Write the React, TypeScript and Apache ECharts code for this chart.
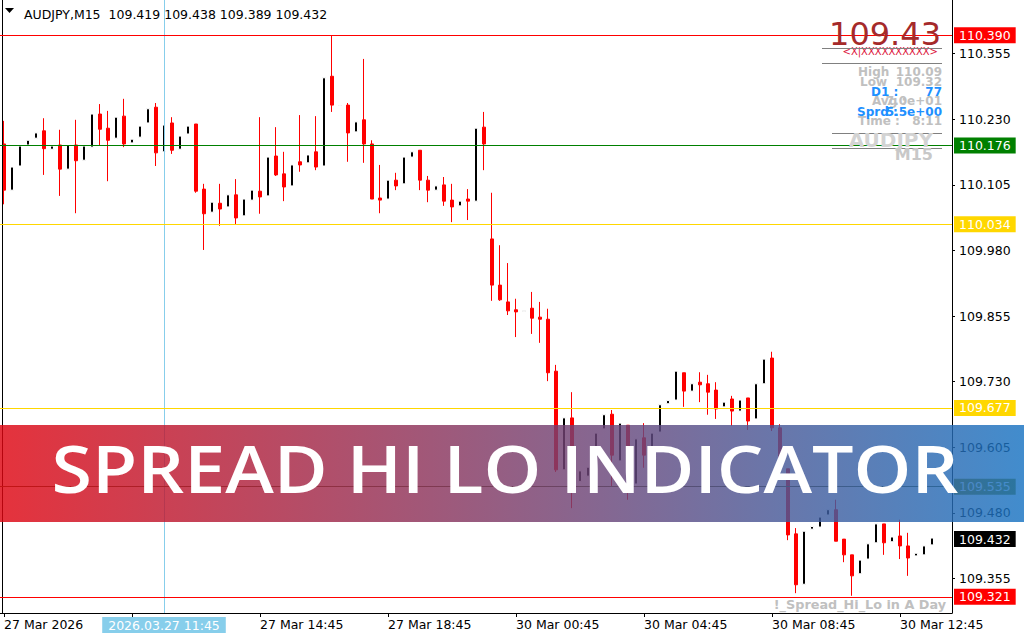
import React, { useEffect, useRef } from "react";
import * as echarts from "echarts";

// ---------- data ----------
const symbol = "AUDJPY";
const timeframe = "M15";
const sessions = [
  { date: "2026.03.27", firstBar: "06:45", bars: 64 },
  { date: "2026.03.30", firstBar: "00:45", bars: 53 },
];
const emptySlots = 2; // chart shift on the right

const opens = [
  110.183, 110.095, 110.141, 110.181, 110.194, 110.208, 110.173, 110.181, 110.135, 110.181,
  110.152, 110.177, 110.240, 110.213, 110.194, 110.236, 110.185, 110.196, 110.223, 110.253,
  110.168, 110.223, 110.173, 110.202, 110.221, 110.097, 110.053, 110.070, 110.063, 110.086,
  110.046, 110.076, 110.093, 110.084, 110.160, 110.126, 110.103, 110.149, 110.147, 110.168,
  110.141, 110.312, 110.256, 110.257, 110.206, 110.229, 110.183, 110.080, 110.078, 110.114,
  110.107, 110.158, 110.171, 110.114, 110.095, 110.105, 110.076, 110.065, 110.078, 110.074,
  110.215, 110.002, 109.914, 109.882, 109.867, 109.864, 109.870, 109.853, 109.849, 109.750,
  109.562, 109.661, 109.540, 109.550, 109.588, 109.640, 109.668, 109.579, 109.647, 109.535,
  109.623, 109.590, 109.634, 109.688, 109.695, 109.747, 109.712, 109.729, 109.726, 109.714,
  109.682, 109.697, 109.674, 109.699, 109.659, 109.726, 109.775, 109.642, 109.564, 109.440,
  109.344, 109.449, 109.453, 109.476, 109.486, 109.430, 109.400, 109.364, 109.392, 109.423,
  109.459, 109.425, 109.436, 109.417, 109.398, 109.400, 109.419,
];
const closes = [
  110.095, 110.139, 110.179, 110.190, 110.204, 110.174, 110.179, 110.135, 110.181, 110.151,
  110.179, 110.240, 110.211, 110.190, 110.234, 110.183, 110.192, 110.217, 110.250, 110.166,
  110.219, 110.171, 110.198, 110.217, 110.093, 110.050, 110.072, 110.059, 110.086, 110.042,
  110.078, 110.095, 110.082, 110.158, 110.124, 110.101, 110.143, 110.143, 110.162, 110.139,
  110.309, 110.257, 110.257, 110.204, 110.225, 110.183, 110.078, 110.076, 110.114, 110.103,
  110.158, 110.168, 110.114, 110.095, 110.103, 110.074, 110.063, 110.074, 110.074, 110.213,
  110.183, 109.914, 109.886, 109.865, 109.863, 109.865, 109.851, 109.849, 109.747, 109.562,
  109.661, 109.546, 109.560, 109.567, 109.632, 109.667, 109.590, 109.651, 109.600, 109.621,
  109.590, 109.632, 109.686, 109.694, 109.750, 109.712, 109.726, 109.724, 109.710, 109.678,
  109.691, 109.674, 109.695, 109.655, 109.726, 109.773, 109.642, 109.566, 109.438, 109.343,
  109.445, 109.454, 109.472, 109.486, 109.426, 109.400, 109.360, 109.390, 109.421, 109.459,
  109.423, 109.434, 109.417, 109.394, 109.403, 109.417, 109.432,
];
const lows = [
  110.068, 110.095, 110.141, 110.181, 110.194, 110.124, 110.173, 110.084, 110.135, 110.051,
  110.152, 110.177, 110.181, 110.112, 110.194, 110.177, 110.185, 110.196, 110.223, 110.141,
  110.168, 110.164, 110.173, 110.202, 110.090, 109.981, 110.053, 110.027, 110.063, 110.029,
  110.046, 110.076, 110.050, 110.084, 110.122, 110.074, 110.103, 110.130, 110.147, 110.133,
  110.141, 110.244, 110.256, 110.149, 110.206, 110.147, 110.078, 110.051, 110.078, 110.095,
  110.107, 110.158, 110.095, 110.072, 110.095, 110.065, 110.034, 110.065, 110.038, 110.074,
  110.133, 109.884, 109.884, 109.857, 109.815, 109.864, 109.821, 109.804, 109.731, 109.558,
  109.562, 109.489, 109.540, 109.550, 109.588, 109.640, 109.531, 109.579, 109.505, 109.535,
  109.566, 109.590, 109.634, 109.688, 109.695, 109.682, 109.712, 109.691, 109.667, 109.659,
  109.682, 109.646, 109.674, 109.638, 109.659, 109.726, 109.636, 109.562, 109.428, 109.327,
  109.344, 109.449, 109.453, 109.476, 109.426, 109.386, 109.322, 109.364, 109.392, 109.423,
  109.400, 109.425, 109.392, 109.360, 109.398, 109.400, 109.389,
];
const highs = [
  110.227, 110.139, 110.179, 110.190, 110.204, 110.232, 110.179, 110.210, 110.181, 110.229,
  110.179, 110.240, 110.259, 110.246, 110.234, 110.269, 110.192, 110.217, 110.250, 110.261,
  110.219, 110.234, 110.198, 110.217, 110.221, 110.107, 110.072, 110.107, 110.086, 110.116,
  110.078, 110.095, 110.234, 110.158, 110.215, 110.168, 110.143, 110.238, 110.162, 110.236,
  110.309, 110.390, 110.257, 110.261, 110.225, 110.345, 110.190, 110.143, 110.114, 110.128,
  110.158, 110.168, 110.171, 110.122, 110.103, 110.120, 110.107, 110.074, 110.097, 110.213,
  110.244, 110.090, 109.990, 109.956, 109.888, 109.865, 109.901, 109.882, 109.869, 109.762,
  109.661, 109.710, 109.560, 109.567, 109.632, 109.667, 109.676, 109.651, 109.647, 109.621,
  109.651, 109.632, 109.686, 109.694, 109.750, 109.747, 109.726, 109.748, 109.743, 109.729,
  109.691, 109.703, 109.695, 109.699, 109.726, 109.773, 109.787, 109.649, 109.564, 109.451,
  109.445, 109.454, 109.472, 109.486, 109.505, 109.430, 109.400, 109.390, 109.421, 109.459,
  109.459, 109.434, 109.467, 109.442, 109.403, 109.417, 109.438,
];

const priceTicks = [109.355, 109.48, 109.605, 109.73, 109.855, 109.98, 110.105, 110.23, 110.355];
const axisMin = 109.2892;
const axisMax = 110.4573;

const levelValues = [110.39, 110.176, 110.034, 109.677, 109.535, 109.432, 109.321];
const crosshairIndex = 20;

const panelLabels = ["High", "Low", "D1 :", "Avg :", "Sprd :", "Time :"];
const panelValues = ["110.09", "109.32", "77", "7.0e+01", "5.5e+00", "8:11"];
const indicatorName = "!_Spread_Hi_Lo in A Day";
const bannerTitle = "SPREAD HI LO INDICATOR";

// ---------- styles ----------
const levelStyles = [
  { line: "#ff0000", bg: "#ff0000", text: "#ffffff" },
  { line: "#008000", bg: "#008000", text: "#ffffff" },
  { line: "#ffd700", bg: "#ffd700", text: "#ffffff" },
  { line: "#ffd700", bg: "#ffd700", text: "#ffffff" },
  { line: "#4b5320", bg: "#808000", text: "#ffffff" },
  { line: "rgba(0,0,0,0)", bg: "#000000", text: "#ffffff" },
  { line: "#ff0000", bg: "#ff0000", text: "#ffffff" },
];
const panelRows = [
  { lx: 858, y: 72, color: "#c0c0c0", z: 111 },
  { lx: 860, y: 81.5, color: "#c0c0c0", z: 111 },
  { lx: 871, y: 92, color: "#1e90ff", z: 113 },
  { lx: 872, y: 101, color: "#c0c0c0", z: 112 },
  { lx: 857, y: 111.5, color: "#1e90ff", z: 113 },
  { lx: 858, y: 121, color: "#c0c0c0", z: 111 },
];

const FONT = "DejaVu Sans";
const MONTHS = ["Jan", "Feb", "Mar", "Apr", "May", "Jun", "Jul", "Aug", "Sep", "Oct", "Nov", "Dec"];

function buildCategories(): string[] {
  const out: string[] = [];
  sessions.forEach((s) => {
    const [h, m] = s.firstBar.split(":").map(Number);
    for (let k = 0; k < s.bars; k++) {
      const t = h * 60 + m + 15 * k;
      const hh = String(Math.floor(t / 60)).padStart(2, "0");
      const mm = String(t % 60).padStart(2, "0");
      out.push(`${s.date} ${hh}:${mm}`);
    }
  });
  for (let k = 0; k < emptySlots; k++) out.push("");
  return out;
}

function fmtTime(cat: string, idx: number): string {
  if (!cat) return "";
  const [d, t] = cat.split(" ");
  const [y, mo, dd] = d.split(".");
  const day = `${Number(dd)} ${MONTHS[Number(mo) - 1]}`;
  return idx === 0 ? `${day} ${y}` : `${day} ${t}`;
}

export default function App() {
  const ref = useRef<HTMLDivElement>(null);

  useEffect(() => {
    if (!ref.current) return;
    const chart = echarts.init(ref.current, undefined, { renderer: "svg" });
    const cats = buildCategories();
    const nBars = opens.length;
    const last = nBars - 1;
    const header = `${symbol},${timeframe}  ${opens[last].toFixed(3)} ${highs[last].toFixed(3)} ${lows[last].toFixed(3)} ${closes[last].toFixed(3)}`;

    const levelSeries = levelValues.map((v, k) => ({
      type: "line",
      name: "level" + k,
      data: [],
      silent: true,
      z: 3,
      markLine: {
        silent: true,
        symbol: ["none", "none"],
        animation: false,
        lineStyle: { color: levelStyles[k].line, width: 1, type: "solid", opacity: 1 },
        emphasis: { disabled: true },
        label: {
          show: true,
          position: "end",
          formatter: v.toFixed(3),
          color: levelStyles[k].text,
          backgroundColor: levelStyles[k].bg,
          padding: [2, 5, 1, 5],
          fontSize: 12.5,
          fontFamily: FONT,
          distance: 2,
        },
        data: [{ yAxis: v }],
      },
    }));

    const panelGraphics: any[] = [];
    panelLabels.forEach((lab, k) => {
      const r = panelRows[k];
      panelGraphics.push({
        type: "text", z: r.z, silent: true, x: r.lx, y: r.y,
        style: { text: lab, fill: r.color, fontSize: 12, fontWeight: "bold", fontFamily: FONT, align: "left", verticalAlign: "middle" },
      });
      panelGraphics.push({
        type: "text", z: r.z, silent: true, x: 942, y: r.y,
        style: { text: panelValues[k], fill: r.color, fontSize: 12, fontWeight: "bold", fontFamily: FONT, align: "right", verticalAlign: "middle" },
      });
    });

    const sepLines = [
      [822, 48.5, 942], [822, 63.5, 942], [832, 133.5, 942], [832, 148.5, 942],
    ].map(([x1, y, x2]) => ({
      type: "line", z: 110, silent: true,
      shape: { x1, y1: y, x2, y2: y },
      style: { stroke: "#808080", lineWidth: 1 },
    }));

    const option: any = {
      animation: false,
      backgroundColor: "#ffffff",
      textStyle: { fontFamily: FONT },
      grid: { left: 0, right: 72, top: 0, bottom: 27, containLabel: false },
      xAxis: {
        type: "category",
        data: cats,
        boundaryGap: true,
        axisLine: { show: true, lineStyle: { color: "#000000", width: 1 } },
        axisTick: {
          show: true,
          alignWithLabel: true,
          interval: (i: number) => i % 16 === 0 && i < nBars,
          length: 4,
          lineStyle: { color: "#000000" },
        },
        axisLabel: {
          interval: (i: number) => i % 16 === 0 && i !== 16 && i < nBars,
          formatter: (v: string, i: number) => fmtTime(v, i),
          align: "left",
          color: "#000000",
          fontSize: 12.5,
          fontFamily: FONT,
          margin: 5,
        },
        splitLine: { show: false },
      },
      yAxis: {
        type: "value",
        position: "right",
        min: axisMin,
        max: axisMax,
        axisLine: { show: true, lineStyle: { color: "#000000", width: 1 } },
        axisTick: { show: true, length: 3, customValues: priceTicks, lineStyle: { color: "#000000" } },
        axisLabel: {
          customValues: priceTicks,
          formatter: (v: number) => v.toFixed(3),
          color: "#000000",
          fontSize: 12.5,
          fontFamily: FONT,
          margin: 7,
        },
        splitLine: { show: false },
      },
      series: [
        {
          type: "candlestick",
          name: "AUDJPY",
          data: opens.map((o, i) => [o, closes[i], lows[i], highs[i]]),
          barWidth: 4,
          z: 2,
          itemStyle: {
            color: "#000000",
            color0: "#ff0000",
            borderColor: "#ffffff",
            borderColor0: "#ff0000",
            borderWidth: 1,
          },
          markLine: {
            silent: true,
            symbol: ["none", "none"],
            animation: false,
            lineStyle: { color: "#87ceeb", width: 1, type: "solid" },
            label: {
              show: true,
              position: "start",
              formatter: cats[crosshairIndex],
              color: "#ffffff",
              backgroundColor: "#87ceeb",
              padding: [2, 6, 1, 6],
              fontSize: 12.5,
              fontFamily: FONT,
              distance: 4,
            },
            data: [{ xAxis: cats[crosshairIndex] }],
          },
        },
        ...levelSeries,
      ],
      graphic: [
        { type: "line", z: 5, silent: true, shape: { x1: 2.5, y1: 0, x2: 2.5, y2: 613 }, style: { stroke: "#000000", lineWidth: 1 } },
        { type: "polygon", z: 5, silent: true, shape: { points: [[5, 8], [14, 8], [9.5, 13]] }, style: { fill: "#000000" } },
        {
          type: "text", z: 5, silent: true, x: 24, y: 14,
          style: { text: header, fill: "#000000", fontSize: 12.5, fontFamily: FONT, align: "left", verticalAlign: "middle" },
        },
        {
          type: "text", z: 110, silent: true, x: 941, y: 34,
          style: { text: closes[last].toFixed(2), fill: "#a52a2a", fontSize: 32, fontFamily: FONT, align: "right", verticalAlign: "middle" },
        },
        {
          type: "text", z: 110, silent: true, x: 938, y: 51.5,
          style: { text: "<X|XXXXXXXXXX>", fill: "#dc143c", fontSize: 10, fontFamily: FONT, align: "right", verticalAlign: "middle" },
        },
        ...sepLines,
        ...panelGraphics,
        {
          type: "text", z: 110, silent: true, x: 933, y: 140,
          style: { text: symbol, fill: "#d3d3d3", fontSize: 20, fontWeight: "bold", fontFamily: FONT, align: "right", verticalAlign: "middle" },
        },
        {
          type: "text", z: 110, silent: true, x: 933, y: 154,
          style: { text: timeframe, fill: "#c8c8c8", fontSize: 16, fontWeight: "bold", fontFamily: FONT, align: "right", verticalAlign: "middle" },
        },
        {
          type: "text", z: 110, silent: true, x: 946, y: 604.5,
          style: { text: indicatorName, fill: "#c0c0c0", fontSize: 12.8, fontWeight: "bold", fontFamily: FONT, align: "right", verticalAlign: "middle" },
        },
        {
          type: "rect", z: 200, silent: true,
          shape: { x: 0, y: 425, width: 1024, height: 97 },
          style: {
            fill: new echarts.graphic.LinearGradient(0, 0, 1, 0, [
              { offset: 0, color: "#df0511" },
              { offset: 1, color: "#1873c2" },
            ]),
            opacity: 0.82,
          },
        },
        {
          type: "text", z: 201, silent: true, x: 505, y: 468, scaleX: 1.14,
          style: {
            text: bannerTitle, fill: "#ffffff", fontSize: 64.5, fontWeight: 600, fontFamily: "Open Sans",
            align: "center", verticalAlign: "middle",
          },
        },
      ],
    };

    chart.setOption(option);
    return () => chart.dispose();
  }, []);

  return <div ref={ref} style={{ position: "fixed", left: 0, top: 0, width: 1024, height: 640 }} />;
}
